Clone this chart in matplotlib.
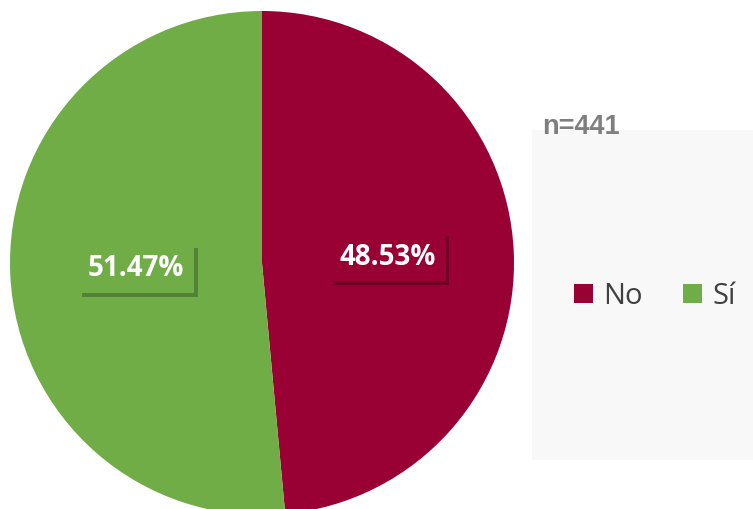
import matplotlib
matplotlib.use("Agg")
import matplotlib.pyplot as plt
import matplotlib.patheffects as pe
from matplotlib.patches import Rectangle, Patch

labels = ["No", "Sí"]
values = [48.53, 51.47]
colors = ["#990033", "#70AD47"]
sample_note = "n=441"

W, H = 753, 509
fig = plt.figure(figsize=(W / 100, H / 100), dpi=100)
ax = fig.add_axes([0, 0, 1, 1])
ax.set_aspect("equal")

# legend panel background
ax.add_patch(Rectangle((532, H - 460), W - 532, 330, facecolor="#F8F8F8",
                       edgecolor="none", zorder=0))

wedges, _, autotexts = ax.pie(
    values, colors=colors, startangle=90, counterclock=False,
    center=(262, H - 263), radius=252, autopct="%.2f%%", pctdistance=0.5,
    wedgeprops=dict(linewidth=0), frame=True,
    textprops=dict(color="white", fontsize=20, weight="bold", family="Open Sans"))
ax.set_xlim(0, W); ax.set_ylim(0, H); ax.axis("off")

for t, c in zip(autotexts, colors):
    t.set_bbox(dict(boxstyle="square,pad=0.35", facecolor=c, edgecolor="none"))
    t.get_bbox_patch().set_path_effects(
        [pe.SimplePatchShadow(offset=(2.5, -2.5), shadow_rgbFace="#000000", alpha=0.25),
         pe.Normal()])

ax.text(542, H - 127, sample_note, color="#7F7F7F", fontsize=19.5, weight="bold",
        family="Liberation Sans", ha="left", va="center")

handles = [Patch(facecolor=c, edgecolor="none") for c in colors]
ax.legend(handles, labels, loc="center", bbox_to_anchor=(655 / W, 1 - 296 / H),
          ncol=2, frameon=False, handlelength=0.65, handleheight=0.65,
          handletextpad=0.35, columnspacing=1.4, labelcolor="#404040",
          prop=dict(family="Open Sans", size=21))

fig.savefig("out.png", dpi=100, facecolor="white")
